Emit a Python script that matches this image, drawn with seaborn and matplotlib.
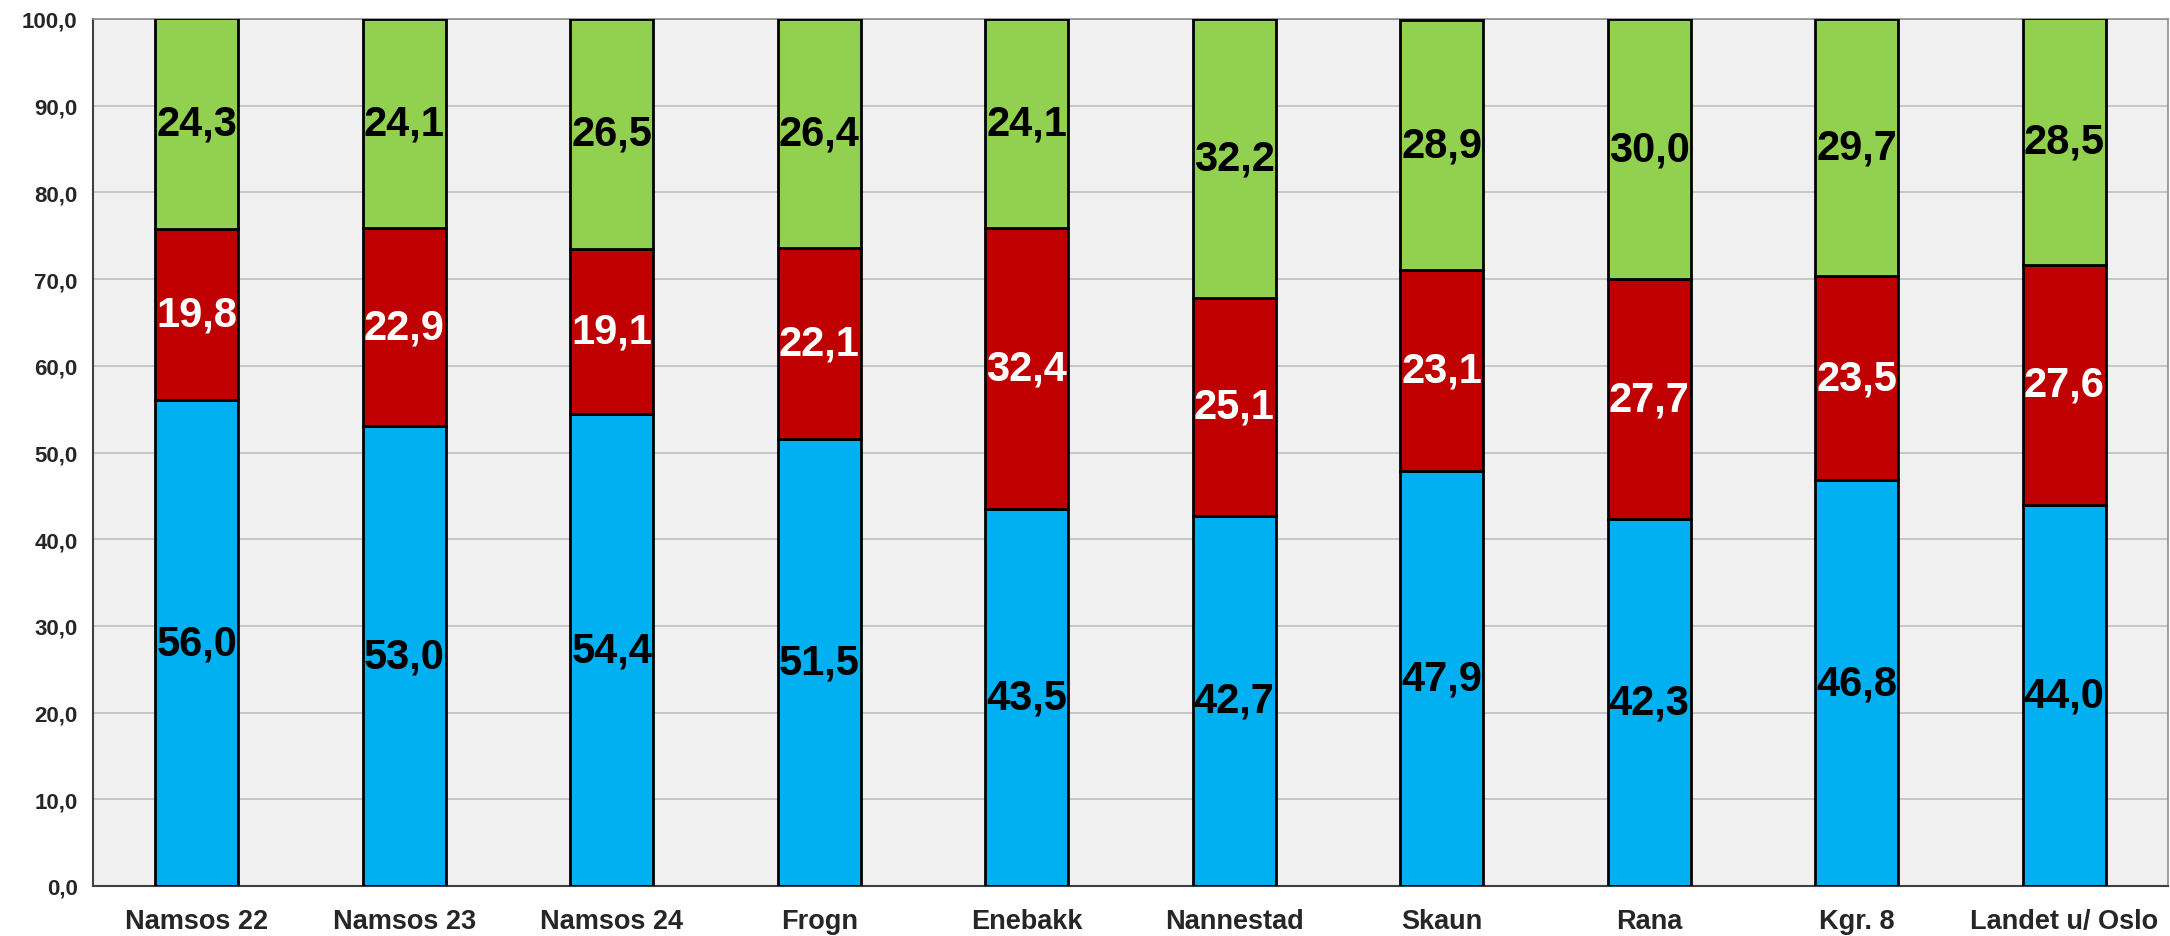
import matplotlib
matplotlib.use("Agg")
import matplotlib.pyplot as plt
import numpy as np
import pandas as pd
import seaborn as sns

# Data
categories = ["Namsos 22", "Namsos 23", "Namsos 24", "Frogn", "Enebakk",
              "Nannestad", "Skaun", "Rana", "Kgr. 8", "Landet u/ Oslo"]
blue_vals = [56.0, 53.0, 54.4, 51.5, 43.5, 42.7, 47.9, 42.3, 46.8, 44.0]
red_vals = [19.8, 22.9, 19.1, 22.1, 32.4, 25.1, 23.1, 27.7, 23.5, 27.6]
green_vals = [24.3, 24.1, 26.5, 26.4, 24.1, 32.2, 28.9, 30.0, 29.7, 28.5]
y_ticks = [0, 10, 20, 30, 40, 50, 60, 70, 80, 90, 100]

sns.set_style("white")
plt.rcParams['font.family'] = ['Liberation Sans', 'DejaVu Sans']

df = pd.DataFrame({"cat": categories, "blue": blue_vals, "red": red_vals, "green": green_vals})
df["red_bottom"] = df["blue"]
df["green_bottom"] = df["blue"] + df["red"]

fig = plt.figure(figsize=(21.7, 9.37), dpi=100)
ax = fig.add_axes([93 / 2170, 50 / 937, (2168 - 93) / 2170, (887 - 20) / 937])
ax.set_facecolor("#F0F0F0")

layers = [
    ("blue", None, "#00B0F0", "black"),
    ("red", "red_bottom", "#C00000", "white"),
    ("green", "green_bottom", "#92D050", "black"),
]
for col, bottom_col, color, txt_color in layers:
    bottom = df[bottom_col].values if bottom_col else np.zeros(len(df))
    sns.barplot(data=df, x="cat", y=col, bottom=bottom, color=color, width=0.4,
                edgecolor="black", linewidth=2, saturation=1, ax=ax, zorder=3)
    for i, (v, b) in enumerate(zip(df[col].values, bottom)):
        ax.text(i, b + v / 2, f"{v:.1f}".replace(".", ","), ha="center", va="center",
                fontsize=30, fontweight="bold", color=txt_color, zorder=4)

ax.set_ylim(0, 100)
ax.set_xlim(-0.5, len(categories) - 0.5)
ax.set_yticks(y_ticks)
ax.set_yticklabels([f"{v:.1f}".replace(".", ",") for v in y_ticks], fontsize=16, fontweight="bold")
ax.set_xticks(range(len(categories)))
ax.set_xticklabels(categories, fontsize=19.5, fontweight="bold")
ax.set_xticks(np.arange(-0.5, len(categories), 1), minor=True)
ax.tick_params(axis="x", which="major", length=0, pad=16)
ax.tick_params(axis="x", which="minor", length=7, width=1.2, color="#404040", direction="out")
ax.tick_params(axis="y", length=7, width=1.2, color="#404040", direction="out", pad=4)
ax.grid(axis="y", color="#BFBFBF", linewidth=1.2, zorder=0)
ax.set_axisbelow(True)
ax.set_xlabel("")
ax.set_ylabel("")

for side in ["left", "bottom"]:
    ax.spines[side].set_color("#404040")
    ax.spines[side].set_linewidth(1.5)
for side in ["top", "right"]:
    ax.spines[side].set_color("#8C8C8C")
    ax.spines[side].set_linewidth(1.2)

fig.savefig("out.png", dpi=100, facecolor="white")
